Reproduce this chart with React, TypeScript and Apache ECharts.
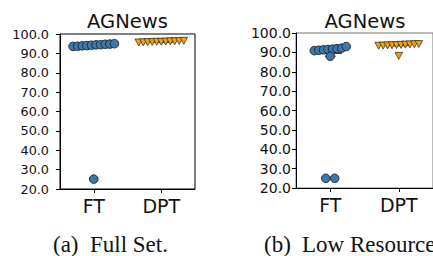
import React, { useEffect, useRef } from "react";
import * as echarts from "echarts";

const categories = ["FT", "DPT"];
const yTicks = { min: 20, max: 100, interval: 10 };

// Panel (a) Full Set
const fullFT = [93.6, 93.7, 93.9, 94.0, 94.2, 94.4, 94.5, 94.7, 94.8, 95.0, 25.1];
const fullDPT = [95.6, 95.7, 95.8, 95.9, 96.0, 96.0, 96.1, 96.2, 96.3, 96.4, 96.5];
// Panel (b) Low Resource
const lowFT = [90.9, 91.1, 91.3, 91.5, 91.7, 91.9, 92.2, 93.0, 88.0, 25.0, 25.0];
const lowDPT = [93.4, 93.5, 93.6, 93.7, 93.8, 93.9, 94.0, 94.1, 94.2, 94.3, 88.2];

const titles = ["AGNews", "AGNews"];
const captions = [
  ["(a)", "Full Set."],
  ["(b)", "Low Resource"],
];

const FONT = "DejaVu Sans";
const SERIF = "Liberation Serif";

const panels = [
  { left: 60, top: 34, width: 135, height: 155, border: "#000", labelSize: 12.8, labelMargin: 11, ft: fullFT, dpt: fullDPT, capX: [53, 90] },
  { left: 296, top: 33, width: 138, height: 155, border: "#777", labelSize: 14, labelMargin: 5, ft: lowFT, dpt: lowDPT, capX: [264, 302] },
];

// cluster-based swarm: points closer than the marker size are spread side by side
function swarm(values: number[], pxPerUnit: number, diameter: number, crowdSpacing: number): number[] {
  const idx = values.map((_, i) => i).sort((a, b) => values[a] - values[b]);
  const out = new Array(values.length).fill(0);
  const clusters: number[][] = [];
  let cur: number[] = [];
  for (const i of idx) {
    if (cur.length && (values[i] - values[cur[cur.length - 1]]) * pxPerUnit >= diameter * 0.6) {
      clusters.push(cur);
      cur = [];
    }
    cur.push(i);
  }
  if (cur.length) clusters.push(cur);
  for (const c of clusters) {
    const s = c.length > 4 ? crowdSpacing : diameter;
    c.forEach((i, k) => {
      out[i] = (k - (c.length - 1) / 2) * s;
    });
  }
  return out;
}

function quantile(sorted: number[], q: number) {
  const pos = (sorted.length - 1) * q;
  const lo = Math.floor(pos);
  const hi = Math.ceil(pos);
  return sorted[lo] + (sorted[hi] - sorted[lo]) * (pos - lo);
}

function boxStats(values: number[]) {
  const s = [...values].sort((a, b) => a - b);
  const q1 = quantile(s, 0.25);
  const med = quantile(s, 0.5);
  const q3 = quantile(s, 0.75);
  const iqr = q3 - q1;
  const lo = Math.min(...s.filter((v) => v >= q1 - 1.5 * iqr));
  const hi = Math.max(...s.filter((v) => v <= q3 + 1.5 * iqr));
  return [lo, q1, med, q3, hi];
}

export default function App() {
  const ref = useRef<HTMLDivElement>(null);
  useEffect(() => {
    if (!ref.current) return;
    const chart = echarts.init(ref.current, null, { renderer: "svg" });
    const grid: any[] = [];
    const xAxis: any[] = [];
    const yAxis: any[] = [];
    const series: any[] = [];
    const graphic: any[] = [];

    panels.forEach((p, gi) => {
      grid.push({ left: p.left, top: p.top, width: p.width, height: p.height, show: true, borderColor: p.border, borderWidth: 1, backgroundColor: "transparent" });
      xAxis.push({
        type: "category",
        gridIndex: gi,
        data: categories,
        axisLine: { show: true, onZero: false, lineStyle: { color: "#000", width: 1 } },
        axisTick: { show: true, alignWithLabel: true, length: 4, lineStyle: { color: "#000" } },
        axisLabel: { fontSize: 19, color: "#111", fontFamily: FONT, margin: 7 },
        splitLine: { show: false },
      });
      xAxis.push({ type: "value", gridIndex: gi, min: -0.5, max: 1.5, show: false, axisLine: { onZero: false }, splitLine: { show: false } });
      yAxis.push({
        type: "value",
        gridIndex: gi,
        min: yTicks.min,
        max: yTicks.max,
        interval: yTicks.interval,
        axisLine: { show: true, onZero: false, lineStyle: { color: "#000", width: 1 } },
        axisTick: { show: true, length: 4, lineStyle: { color: "#000" } },
        axisLabel: { fontSize: p.labelSize, color: "#111", fontFamily: FONT, margin: p.labelMargin, formatter: (v: number) => v.toFixed(1) },
        splitLine: { show: false },
      });
      const catW = p.width / categories.length;
      const pxPerUnit = p.height / (yTicks.max - yTicks.min);
      const stats = [boxStats(p.ft), boxStats(p.dpt)];
      series.push({
        type: "custom",
        xAxisIndex: gi * 2 + 1,
        yAxisIndex: gi,
        data: stats.map((s, ci) => [ci, ...s]),
        z: 2,
        renderItem: (params: any, api: any) => {
          const c = api.value(0);
          const vals = [1, 2, 3, 4, 5].map((d) => api.value(d));
          const pts = vals.map((v) => api.coord([c, v]));
          const x = pts[0][0];
          const hw = 11;
          const stroke = { stroke: "#454545", lineWidth: 1.2 };
          return {
            type: "group",
            children: [
              { type: "line", shape: { x1: x, y1: pts[0][1], x2: x, y2: pts[1][1] }, style: stroke },
              { type: "line", shape: { x1: x, y1: pts[3][1], x2: x, y2: pts[4][1] }, style: stroke },
              { type: "line", shape: { x1: x - hw / 2, y1: pts[0][1], x2: x + hw / 2, y2: pts[0][1] }, style: stroke },
              { type: "line", shape: { x1: x - hw / 2, y1: pts[4][1], x2: x + hw / 2, y2: pts[4][1] }, style: stroke },
              { type: "rect", shape: { x: x - hw, y: pts[3][1], width: 2 * hw, height: Math.max(1, pts[1][1] - pts[3][1]) }, style: { fill: "#8c8c8c", stroke: "#454545", lineWidth: 1.2 } },
              { type: "line", shape: { x1: x - hw, y1: pts[2][1], x2: x + hw, y2: pts[2][1] }, style: stroke },
            ],
          };
        },
      });
      const ftOff = swarm(p.ft, pxPerUnit, 9, 4.6);
      const dptOff = swarm(p.dpt, pxPerUnit, 9, 4.5);
      series.push({
        type: "scatter",
        xAxisIndex: gi * 2 + 1,
        yAxisIndex: gi,
        symbol: "circle",
        symbolSize: 8.5,
        itemStyle: { color: "#3d78ac", borderColor: "#1d2733", borderWidth: 1, opacity: 1 },
        data: p.ft.map((v, i) => [0 + ftOff[i] / catW, v]),
        z: 5,
      });
      series.push({
        type: "scatter",
        xAxisIndex: gi * 2 + 1,
        yAxisIndex: gi,
        symbol: "triangle",
        symbolRotate: 180,
        symbolSize: [7.5, 7],
        itemStyle: { color: "#f5a300", borderColor: "#333", borderWidth: 0.8, opacity: 1 },
        data: p.dpt.map((v, i) => [1 + dptOff[i] / catW, v]),
        z: 5,
      });
      graphic.push({
        type: "text",
        x: p.left + p.width / 2,
        y: 21.5,
        style: { text: titles[gi], fontSize: 19.5, fontFamily: FONT, fill: "#111", align: "center", verticalAlign: "middle" },
      });
      graphic.push({
        type: "text",
        x: p.capX[0],
        y: 244,
        style: { text: captions[gi][0], fontSize: 23, fontFamily: SERIF, fill: "#111", align: "left", verticalAlign: "middle" },
      });
      graphic.push({
        type: "text",
        x: p.capX[1],
        y: 244,
        style: { text: captions[gi][1], fontSize: 23, fontFamily: SERIF, fill: "#111", align: "left", verticalAlign: "middle" },
      });
    });

    chart.setOption({
      animation: false,
      backgroundColor: "#fff",
      grid,
      xAxis,
      yAxis,
      series,
      graphic,
    });
    return () => chart.dispose();
  }, []);
  return <div ref={ref} style={{ width: 433, height: 256, position: "absolute", left: 0, top: 0 }} />;
}
